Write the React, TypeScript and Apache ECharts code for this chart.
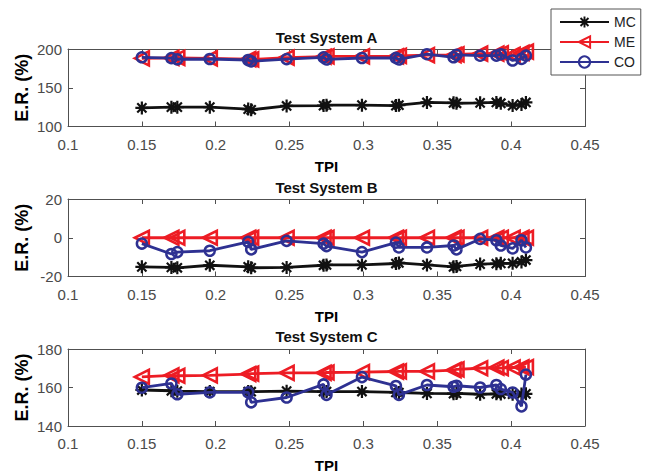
import React, { useEffect, useRef } from 'react';
import * as echarts from 'echarts';

// TPI values (shared x for all series)
const TPI = [0.150, 0.170, 0.174, 0.196, 0.222, 0.224, 0.248, 0.273, 0.275, 0.299, 0.322, 0.324, 0.343, 0.361, 0.363, 0.379, 0.390, 0.393, 0.401, 0.407, 0.410];

// Test System A
const A_MC = [124, 125, 125, 125, 122.5, 121.5, 126.5, 127, 127.5, 127.5, 127, 127.5, 131, 130.5, 130, 130.5, 131, 130, 127, 128.5, 131];
const A_ME = [188, 188.5, 188.5, 188, 187, 186.5, 189, 190, 190.5, 190.5, 190.5, 191, 192, 192, 193, 194, 194, 194.5, 192.5, 195, 196.5];
const A_CO = [189.3, 188.2, 186.8, 187.1, 185.8, 184, 187, 189.3, 186.5, 188.4, 188.5, 186.5, 193.3, 189.3, 192.5, 191.4, 191.5, 193.3, 185.2, 187.2, 191.4];

// Test System B
const B_MC = [-15, -15.3, -15.5, -14.2, -15, -15.5, -15.3, -14.2, -14, -14, -13.3, -13, -14, -15, -14.8, -13.6, -13.4, -13.2, -13.2, -12.5, -11.5];
const B_ME = [0, 0, 0, 0, 0, 0, 0, 0, 0, 0, 0, 0, 0, 0, 0, 0, 0, 0, 0, 0, 0];
const B_CO = [-3, -8.4, -7.4, -6.7, -2.1, -6, -1.6, -3, -4.3, -7.4, -2.5, -5, -5, -4, -6, -0.6, -1.3, -4, -5.5, -1.3, -5];

// Test System C
const C_MC = [158.7, 158.3, 158.1, 157.9, 157.9, 157.8, 158.1, 157.9, 157.9, 157.9, 157.5, 157.4, 156.9, 156.8, 156.9, 156.5, 156.7, 156.6, 156.5, 156.6, 156.7];
const C_ME = [165.5, 166.3, 166.1, 166.3, 167, 167.2, 167.6, 167.6, 167.8, 168, 168.3, 168.4, 168.4, 169, 169.4, 170, 170.3, 170.1, 170.4, 170.5, 170.6];
const C_CO = [159.9, 162.1, 156.5, 157.5, 157.5, 152.3, 154.8, 161.6, 156.2, 165.4, 160.8, 156.2, 161.3, 160.4, 160.9, 160, 161.3, 159.2, 157.4, 150.2, 166.7];

const TITLES = ['Test System A', 'Test System B', 'Test System C'];
const SERIES_NAMES = ['MC', 'ME', 'CO'];
const PANEL_DATA = [
  [A_MC, A_ME, A_CO],
  [B_MC, B_ME, B_CO],
  [C_MC, C_ME, C_CO],
];
const Y_MIN = [100, -20, 140];
const Y_MAX = [200, 20, 180];
const Y_INTERVAL = [50, 20, 20];
const X_MIN = 0.1;
const X_MAX = 0.45;
const X_INTERVAL = 0.05;

const FONT = '"Liberation Sans", Arial, Helvetica, sans-serif';
const AXIS_COLOR = '#505050';
const TEXT_COLOR = '#4a4a4a';
const COLORS = ['#111111', '#ed1c24', '#2e3192'];

const ASTERISK =
  'path://M0 8.3L20 8.3L20 11.7L0 11.7Z M8.3 0L11.7 0L11.7 20L8.3 20Z M4.13 1.73L18.27 15.87L15.87 18.27L1.73 4.13Z M18.27 4.13L4.13 18.27L1.73 15.87L15.87 1.73Z';

const GRID_TOPS = [49, 199, 349];
const GRID_HEIGHTS = [77.5, 77.5, 77];
const GRID_LEFT = 68;
const GRID_WIDTH = 517;

export default function App() {
  const ref = useRef<HTMLDivElement>(null);

  useEffect(() => {
    if (!ref.current) return;
    const chart = echarts.init(ref.current, undefined, { renderer: 'svg' });

    const grids = GRID_TOPS.map((top, i) => ({
      left: GRID_LEFT,
      width: GRID_WIDTH,
      top,
      height: GRID_HEIGHTS[i],
      containLabel: false,
    }));

    const tick = { show: true, inside: true, length: 5, lineStyle: { color: AXIS_COLOR, width: 1 } };
    const line = { show: true, onZero: false, lineStyle: { color: AXIS_COLOR, width: 1 } };

    const xAxes: any[] = [];
    const yAxes: any[] = [];
    for (let i = 0; i < 3; i++) {
      xAxes.push({
        type: 'value',
        gridIndex: i,
        position: 'bottom',
        min: X_MIN,
        max: X_MAX,
        interval: X_INTERVAL,
        axisLine: line,
        axisTick: tick,
        splitLine: { show: false },
        axisLabel: {
          color: TEXT_COLOR,
          fontSize: 15,
          fontFamily: FONT,
          margin: 10,
          formatter: (v: number) => String(Number(v.toFixed(2))),
        },
        name: 'TPI',
        nameLocation: 'middle',
        nameGap: 32,
        nameMoveOverlap: false,
        nameTextStyle: { color: '#000', fontSize: 15, fontWeight: 'bold', fontFamily: FONT },
      });
      yAxes.push({
        type: 'value',
        gridIndex: i,
        position: 'left',
        min: Y_MIN[i],
        max: Y_MAX[i],
        interval: Y_INTERVAL[i],
        axisLine: line,
        axisTick: tick,
        splitLine: { show: false },
        axisLabel: { color: TEXT_COLOR, fontSize: 15, fontFamily: FONT, margin: 6 },
        name: 'E.R. (%)',
        nameLocation: 'middle',
        nameGap: 37,
        nameMoveOverlap: false,
        nameTextStyle: { color: '#000', fontSize: 18, fontWeight: 'bold', fontFamily: FONT },
      });
    }
    for (let i = 0; i < 3; i++) {
      xAxes.push({
        type: 'value',
        gridIndex: i,
        position: 'top',
        min: X_MIN,
        max: X_MAX,
        interval: X_INTERVAL,
        axisLine: line,
        axisTick: tick,
        axisLabel: { show: false },
        splitLine: { show: false },
      });
      yAxes.push({
        type: 'value',
        gridIndex: i,
        position: 'right',
        min: Y_MIN[i],
        max: Y_MAX[i],
        interval: Y_INTERVAL[i],
        axisLine: line,
        axisTick: tick,
        axisLabel: { show: false },
        splitLine: { show: false },
      });
    }

    const series: any[] = [];
    PANEL_DATA.forEach((panel, i) => {
      panel.forEach((vals, k) => {
        const data = TPI.map((x, j) => [x, vals[j]]);
        const base: any = {
          type: 'line',
          name: SERIES_NAMES[k],
          xAxisIndex: i,
          yAxisIndex: i,
          data,
          showAllSymbol: true,
          silent: true,
          lineStyle: { color: COLORS[k], width: 2.8 },
          emphasis: { disabled: true },
          z: 2 + k,
        };
        if (k === 0) {
          base.symbol = ASTERISK;
          base.symbolSize = 13;
          base.itemStyle = { color: COLORS[0] };
        } else if (k === 1) {
          base.symbol = 'triangle';
          base.symbolRotate = 90;
          base.symbolSize = 14;
          base.itemStyle = { color: 'rgba(255,255,255,0)', borderColor: COLORS[1], borderWidth: 2.6 };
        } else {
          base.symbol = 'circle';
          base.symbolSize = 10;
          base.itemStyle = { color: 'rgba(255,255,255,0)', borderColor: COLORS[2], borderWidth: 2.5 };
        }
        series.push(base);
      });
    });

    const titleCenters = [37.5, 187.5, 336.5];
    const graphic = TITLES.map((t, i) => ({
      type: 'text',
      x: GRID_LEFT + GRID_WIDTH / 2,
      y: titleCenters[i],
      style: {
        text: t,
        fill: '#111',
        font: `bold 15px ${FONT}`,
        textAlign: 'center',
        textVerticalAlign: 'middle',
      },
      z: 10,
    }));

    chart.setOption({
      animation: false,
      backgroundColor: '#ffffff',
      grid: grids,
      xAxis: xAxes,
      yAxis: yAxes,
      series,
      graphic,
      legend: {
        data: SERIES_NAMES,
        orient: 'vertical',
        left: 551,
        top: 9,
        itemWidth: 49,
        itemHeight: 14,
        itemGap: 6,
        padding: [6, 5, 6, 8],
        borderColor: '#555',
        borderWidth: 1,
        backgroundColor: '#ffffff',
        selectedMode: false,
        textStyle: { fontSize: 14, fontFamily: FONT, color: '#222', lineHeight: 14 },
        z: 10,
      },
    });

    return () => {
      chart.dispose();
    };
  }, []);

  return (
    <div
      ref={ref}
      style={{ position: 'absolute', left: 0, top: 0, width: 646, height: 475 }}
    />
  );
}
